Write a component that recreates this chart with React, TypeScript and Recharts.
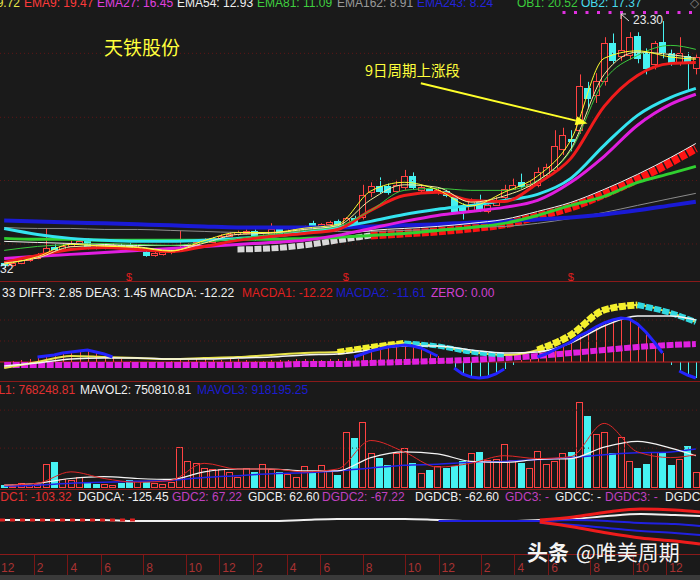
import React from "react";
import {
  Bar,
  ComposedChart,
  Line,
  ReferenceDot,
  ReferenceLine,
  XAxis,
  YAxis,
} from "recharts";

const BG = "#1a1a1a";
const RISE = "#ff4242";
const FALL = "#46f2f2";
const GRID = "#5e1616";
const LATIN = "'Liberation Sans', Arial, sans-serif";
const CJK = "'Noto Sans CJK SC', 'Noto Sans', sans-serif";
const W = 700;

// K线：每根一个值
const opens = [
  3.3, 3.1, 3.3, 3.5, 3.7, 4.0, 4.6, 4.4, 4.7, 4.9,
  5.1, 4.6, 4.5, 4.65, 4.75, 4.75, 4.5, 4.2, 3.9, 4.0,
  4.15, 4.3, 4.6, 4.8, 5.0, 5.0, 5.3, 5.5, 5.6, 5.7,
  5.9, 5.3, 5.6, 6.1, 5.75, 5.9, 6.0, 6.5, 6.2, 6.4,
  6.7, 6.3, 6.9, 7.0, 9.0, 9.5, 9.5, 9.1, 9.4, 10.3,
  9.2, 9.3, 9.0, 9.1, 8.6, 7.8, 7.6, 8.4, 7.5, 8.0,
  8.6, 9.3, 9.8, 9.5, 9.6, 10.4, 10.8, 12.5, 13.3, 14.0,
  17.4, 16.8, 18.0, 21.0, 20.0, 20.1, 21.6, 20.3, 19.3, 21.1,
  20.2, 19.5, 20.0, 19.0,
];
const closes = [
  3.1, 3.3, 3.5, 3.7, 3.9, 4.5, 4.4, 4.7, 4.9, 5.1,
  4.55, 4.5, 4.65, 4.75, 4.6, 4.55, 4.6, 3.9, 4.1, 4.15,
  4.35, 4.6, 4.8, 5.0, 5.15, 5.3, 5.5, 5.65, 5.8, 5.9,
  5.2, 5.5, 6.0, 5.7, 5.9, 6.1, 6.2, 6.2, 6.4, 6.6,
  6.2, 6.9, 6.6, 8.8, 9.5, 9.1, 9.0, 9.6, 10.3, 9.4,
  9.4, 9.1, 9.2, 8.8, 7.5, 7.6, 8.3, 7.6, 8.0, 8.4,
  9.3, 9.6, 9.5, 9.7, 10.6, 11.0, 12.7, 13.6, 13.1, 17.6,
  16.6, 18.0, 21.0, 19.7, 20.5, 21.5, 19.8, 19.0, 21.0, 20.3,
  19.4, 20.2, 19.4, 19.9,
];
const highs = [
  3.4, 3.4, 3.6, 3.8, 4.1, 6.1, 4.8, 4.9, 5.1, 5.3,
  5.3, 4.7, 4.8, 4.9, 4.85, 4.9, 4.7, 4.3, 4.2, 4.3,
  4.5, 5.9, 4.9, 5.1, 5.3, 5.4, 5.6, 5.8, 5.9, 6.0,
  6.0, 5.6, 6.5, 6.2, 6.0, 6.2, 6.3, 6.7, 6.5, 6.7,
  6.8, 7.0, 7.1, 9.6, 9.8, 10.2, 9.7, 10.0, 10.8, 10.6,
  9.6, 9.4, 9.4, 9.2, 8.7, 8.1, 8.5, 8.8, 8.2, 8.6,
  9.6, 10.1, 10.5, 9.9, 11.0, 11.3, 14.0, 14.2, 14.0, 18.5,
  17.9, 18.6, 21.5, 21.8, 23.3, 21.9, 21.9, 20.6, 21.2, 22.8,
  20.5, 21.5, 20.3, 20.1,
];
const lows = [
  2.9, 3.0, 3.2, 3.4, 3.6, 3.9, 4.2, 4.3, 4.6, 4.8,
  4.4, 4.4, 4.4, 4.5, 4.5, 4.4, 4.3, 3.8, 3.8, 3.9,
  4.0, 4.2, 4.5, 4.7, 4.9, 4.9, 5.2, 5.4, 5.5, 5.6,
  5.1, 5.2, 5.4, 5.6, 5.6, 5.8, 5.9, 6.1, 6.1, 6.3,
  6.1, 6.2, 6.5, 6.8, 8.6, 8.9, 8.8, 9.0, 9.2, 9.2,
  9.0, 8.9, 8.8, 8.6, 7.3, 6.8, 7.4, 7.4, 7.3, 7.9,
  8.4, 9.2, 9.3, 9.3, 9.4, 10.2, 10.6, 12.0, 12.3, 13.7,
  15.8, 16.2, 17.6, 19.4, 19.6, 19.7, 19.4, 18.5, 18.9, 19.8,
  19.2, 19.2, 17.2, 18.5,
];
// 成交量（单位约 2.2 万）
const volumes = [
  3, 2, 5, 3, 4, 25, 27, 10, 8, 12, 5, 4, 4, 3, 5, 8, 7, 6, 5, 4, 6,
  43, 28, 26, 21, 20, 20, 17, 12, 21, 17, 25, 20, 17, 15, 12, 23, 17, 24, 19, 14,
  59, 53, 69, 37, 32, 24, 37, 42, 26, 16, 19, 23, 21, 23, 28, 37, 38, 29, 31, 46,
  29, 26, 21, 39, 25, 28, 37, 38, 91, 76, 57, 59, 37, 54, 28, 21, 25, 38, 37, 24, 31, 44, 17,
];
const macdHist = [
  0, 0.1, 0.2, 0.3, 0.5, 0.6, 0.7, 0.9, 1.0, 1.1, 1.2, 1.0, 0.8, 0.5, 0.3, 0.1, 0, -0.1, -0.1, 0,
  0.1, 0.2, 0.2, 0.3, 0.3, 0.2, 0.2, 0.3, 0.3, 0.2, 0.1, 0.1, 0.2, 0.2, 0.2, 0.3, 0.3, 0.3, 0.2, 0.3, 0.3, 0.4,
  0.5, 0.8, 1.1, 1.3, 1.5, 1.6, 1.7, 1.6, 1.4, 1.0, 0.6, 0.2, -0.6, -1.2, -1.5, -1.6, -1.5, -1.2, -0.7, -0.3,
  0.2, 0.3, 0.5, 0.8, 1.2, 1.6, 2.0, 2.6, 3.0, 3.5, 3.9, 4.2, 4.4, 4.3, 3.8, 3.0, 2.0, 0.9, -0.3, -0.9, -1.3, -1.6,
];

// 指标线：每4根读一次，外加最后一根
const sampleIdx = [0, 4, 8, 12, 16, 20, 24, 28, 32, 36, 40, 44, 48, 52, 56, 60, 64, 68, 72, 76, 80, 83];
const ema9 = [3.34, 3.91, 4.39, 4.55, 4.39, 4.23, 4.63, 5.12, 5.44, 5.68, 6.0, 7.54, 8.74, 8.99, 8.34, 8.26, 9.71, 11.73, 15.92, 18.42, 19.39, 19.47];
const ema27 = [3.66, 3.83, 3.99, 4.15, 4.31, 4.47, 4.63, 4.79, 4.95, 5.12, 5.52, 6.08, 6.65, 7.13, 7.45, 7.78, 8.34, 9.8, 11.9, 14.4, 16.1, 16.9];
const ema54 = [5.04, 4.95, 4.87, 4.79, 4.71, 4.71, 4.71, 4.79, 4.87, 5.12, 5.52, 5.92, 6.08, 6.24, 6.49, 6.81, 7.45, 8.18, 9.23, 10.44, 11.81, 12.93];
const ema81 = [5.28, 5.2, 5.2, 5.12, 5.12, 5.12, 5.12, 5.2, 5.2, 5.28, 5.36, 5.52, 5.68, 5.92, 6.16, 6.49, 7.13, 7.94, 8.66, 9.79, 10.52, 11.09];
const ema162 = [6.16, 6.08, 6.08, 6.0, 6.0, 5.92, 5.84, 5.76, 5.76, 5.76, 5.84, 5.84, 5.92, 6.0, 6.16, 6.24, 6.49, 6.89, 7.37, 7.94, 8.5, 8.91];
const ema243 = [6.73, 6.65, 6.57, 6.49, 6.41, 6.33, 6.24, 6.16, 6.16, 6.16, 6.16, 6.24, 6.33, 6.41, 6.57, 6.65, 6.81, 6.97, 7.21, 7.54, 7.94, 8.24];
const ob1 = [4.31, 4.63, 4.79, 4.87, 4.79, 4.71, 4.95, 5.28, 5.6, 5.92, 6.24, 7.54, 9.15, 9.31, 9.15, 9.15, 9.95, 12.37, 18.0, 20.03, 20.84, 20.52];
const ob2 = [6.08, 5.6, 5.28, 5.12, 5.04, 5.04, 5.12, 5.28, 5.44, 5.76, 6.16, 6.65, 7.21, 7.62, 7.94, 8.34, 8.83, 10.12, 12.78, 15.2, 16.65, 17.37];
const fastA = [3.2, 3.8, 4.8, 4.65, 4.55, 4.25, 5.1, 5.75, 5.75, 6.1, 6.4, 9.1, 9.8, 9.2, 7.9, 9.0, 10.3, 13.2, 19.8, 20.4, 19.9, 19.72];
const fastB = [3.3, 3.7, 4.6, 4.7, 4.6, 4.3, 4.9, 5.6, 5.7, 6.0, 6.3, 8.4, 9.6, 9.4, 8.2, 8.7, 9.9, 12.5, 18.5, 20.3, 20.1, 19.8];
const squareBand = [null, null, null, null, null, null, null, 4.39, 4.47, 4.72, 5.12, 5.52, 5.68, 5.84, 6.09, 6.41, 7.05, 7.78, 8.83, 10.04, 11.41, 12.53];

const macdDiff = [-0.6, 0.0, 0.6, 0.5, 0.4, 0.3, 0.4, 0.5, 0.7, 0.9, 1.0, 1.5, 1.9, 1.6, 1.0, 0.7, 1.2, 2.7, 5.2, 5.7, 4.9, 4.0];
const macdDea = [-0.4, -0.1, 0.3, 0.4, 0.4, 0.3, 0.3, 0.4, 0.5, 0.7, 0.8, 1.2, 1.6, 1.6, 1.2, 0.9, 1.0, 1.9, 3.6, 4.6, 4.6, 4.2];
const macdBand = [-0.3, -0.3, -0.3, -0.3, -0.3, -0.3, -0.3, -0.3, -0.3, -0.2, -0.2, -0.1, 0.0, 0.1, 0.2, 0.4, 0.6, 0.9, 1.2, 1.5, 1.7, 1.8];
const diffRiseRanges = [[40, 48], [64, 76]];
const diffFallRanges = [[48, 60], [76, 83]];

const mavol1 = [3, 5, 17, 10, 6, 8, 26, 20, 20, 17, 20, 50, 38, 22, 26, 34, 31, 33, 68, 38, 32, 35];
const mavol2 = [3, 5, 10, 12, 10, 9, 17, 20, 20, 18, 18, 32, 38, 36, 28, 27, 30, 31, 43, 49, 42, 34];
const mavol3 = [2, 3, 5, 6, 7, 8, 11, 13, 15, 16, 18, 21, 24, 25, 27, 28, 30, 32, 35, 37, 38, 41];

const gdcWhite = [1, 1, 1, 1, 0, 0, 0, 0, 0, 1, 2, 2, 2, 1, 0, 0, 1, 2, 5, 7, 6, 5];
const gdcUp = [null, null, null, null, null, null, null, null, null, null, null, null, null, null, null, null, 1, 4, 9, 12, 11, 9];
const gdcDown = [null, null, null, null, null, null, null, null, null, null, null, null, null, null, null, null, -1, -6, -12, -17, -20, -23];
const gdcBlueA = [null, null, null, null, null, null, null, null, null, null, null, null, null, 0, 0, 0, 0, 1, 0, -2, -3, -5];
const gdcBlueB = [null, null, null, null, null, null, null, null, null, null, null, null, null, null, null, null, -2, -4, -7, -10, -12, -14];
const gdcLeftRed = [1, 1, 1, 1, 1, null, null, null, null, null, null, null, null, null, null, null, null, null, null, null, null, null];

const monthTickIdx = [4, 8, 12, 17, 22, 26, 30, 34, 38, 43, 48, 52, 57, 61, 65, 70, 75, 79];
const monthLabels = ["2", "4", "6", "8", "10", "12", "2", "4", "6", "8", "10", "12", "2", "4", "6", "8", "10", "12"];
const signalIdx = [15, 41, 68];
const priceGrid = [20.2, 15.04, 9.95, 4.83];

const pick = (arr: (number | null)[], i: number) => {
  const k = sampleIdx.indexOf(i);
  return k < 0 ? null : arr[k];
};
const inRange = (i: number, r: number[]) => i >= r[0] && i <= r[1];

const rows = opens.map((o, i) => ({
  i,
  o,
  c: closes[i],
  hi: highs[i],
  lo: lows[i],
  vol: volumes[i],
  hist: macdHist[i],
  tip: Math.abs(macdHist[i]) >= 0.5 ? macdHist[i] : null,
  ema9: pick(ema9, i),
  ema27: pick(ema27, i),
  ema54: pick(ema54, i),
  ema81: pick(ema81, i),
  ema162: pick(ema162, i),
  ema243: pick(ema243, i),
  ob1: pick(ob1, i),
  ob2: pick(ob2, i),
  fastA: pick(fastA, i),
  fastB: pick(fastB, i),
  sqWhite: i <= 44 ? pick(squareBand, i) : null,
  sqRed: i >= 44 ? pick(squareBand, i) : null,
  diff: pick(macdDiff, i),
  diffRise1: inRange(i, diffRiseRanges[0]) ? pick(macdDiff, i) : null,
  diffRise2: inRange(i, diffRiseRanges[1]) ? pick(macdDiff, i) : null,
  diffFall1: inRange(i, diffFallRanges[0]) ? pick(macdDiff, i) : null,
  diffFall2: inRange(i, diffFallRanges[1]) ? pick(macdDiff, i) : null,
  dea: pick(macdDea, i),
  mband: pick(macdBand, i),
  mav1: pick(mavol1, i),
  mav2: pick(mavol2, i),
  mav3: pick(mavol3, i),
  gWhite: pick(gdcWhite, i),
  gUp: pick(gdcUp, i),
  gDown: pick(gdcDown, i),
  gBlueA: pick(gdcBlueA, i),
  gBlueB: pick(gdcBlueB, i),
  gLeft: pick(gdcLeftRed, i),
}));

const Candle = (props: any) => {
  const { x, y, width, height, payload } = props;
  if (!payload || !isFinite(y) || !isFinite(height)) return null;
  const top = Math.min(y, y + height);
  const span = Math.abs(height);
  const { o, c, hi, lo } = payload;
  const k = hi > lo ? span / (hi - lo) : 0;
  const py = (v: number) => top + (hi - v) * k;
  const up = c >= o;
  const col = up ? RISE : FALL;
  const cx = Math.round(x + width / 2) + 0.5;
  const bTop = Math.round(py(Math.max(o, c))) + 0.5;
  const bBot = Math.round(py(Math.min(o, c))) + 0.5;
  return (
    <g>
      <line x1={cx} x2={cx} y1={top} y2={bTop} stroke={col} />
      <line x1={cx} x2={cx} y1={bBot} y2={top + span} stroke={col} />
      <rect
        x={Math.round(x) + 0.5}
        y={bTop}
        width={Math.round(width) - 1}
        height={Math.max(1, bBot - bTop)}
        fill={up ? BG : col}
        stroke={col}
      />
    </g>
  );
};

const VolBar = (props: any) => {
  const { x, y, width, height, payload } = props;
  if (!payload || !isFinite(y)) return null;
  const up = payload.c >= payload.o;
  const top = Math.round(Math.min(y, y + height)) + 0.5;
  const bottom = Math.round(Math.max(y, y + height)) - 0.5;
  return (
    <rect
      x={Math.round(x) + 0.5}
      y={top}
      width={Math.round(width) - 1}
      height={Math.max(0, bottom - top)}
      fill={up ? BG : FALL}
      stroke={up ? RISE : FALL}
    />
  );
};

const HistLine = (props: any) => {
  const { x, y, width, height, payload } = props;
  if (!payload || !isFinite(y)) return null;
  const cx = Math.round(x + width / 2) + 0.5;
  return <line x1={cx} x2={cx} y1={y} y2={y + height} stroke={payload.hist >= 0 ? RISE : FALL} />;
};

const Arrow = (p: any) => {
  const x1 = p.x1, y1 = p.y1, x2 = p.x2, y2 = p.y2;
  if (![x1, y1, x2, y2].every((v) => isFinite(v))) return null;
  const a = Math.atan2(y2 - y1, x2 - x1);
  const L = 12, H = 4.5;
  const bx = x2 - L * Math.cos(a);
  const by = y2 - L * Math.sin(a);
  const pts = `${x2},${y2} ${bx + H * Math.sin(a)},${by - H * Math.cos(a)} ${bx - H * Math.sin(a)},${by + H * Math.cos(a)}`;
  return (
    <g>
      <line x1={x1} y1={y1} x2={bx} y2={by} stroke="#ffff2a" strokeWidth={2} />
      <polygon points={pts} fill="#ffff2a" />
    </g>
  );
};

const Signal = (p: any) => (
  <text x={p.cx} y={p.cy + 4} textAnchor="middle" fill="#e01e1e" fontSize={11} fontFamily={LATIN}>
    $
  </text>
);

const AxisTick = (p: any) => {
  const k = monthTickIdx.indexOf(p.payload?.value);
  const x = Math.round(p.x) + 0.5;
  return (
    <g>
      <line x1={x} x2={x} y1={p.y + 2} y2={p.y + 22} stroke="#7a1616" />
      <text x={p.x + 3} y={p.y + 19} fill="#a83232" fontSize={12} fontFamily={LATIN}>
        {k >= 0 ? monthLabels[k] : ""}
      </text>
    </g>
  );
};

const margin = { top: 0, right: 0, bottom: 0, left: 0 };

const line = (key: string, color: string, width: number, extra: any = {}) => (
  <Line
    key={key}
    dataKey={key}
    stroke={color}
    strokeWidth={width}
    dot={false}
    activeDot={false}
    connectNulls
    type="monotone"
    isAnimationActive={false}
    {...extra}
  />
);

const dotted = (y: number) => (
  <ReferenceLine key={"g" + y} y={y} stroke={GRID} strokeDasharray="1 3" />
);

type Txt = [string, number, string];
const topRow: Txt[] = [
  ["19.72", -10, "#e8e84a"],
  ["EMA9: 19.47", 24, "#ff3a3a"],
  ["EMA27: 16.45", 97, "#e040e0"],
  ["EMA54: 12.93", 177, "#f0f0f0"],
  ["EMA81: 11.09", 257, "#40d040"],
  ["EMA162: 8.91", 337, "#9a9a9a"],
  ["EMA243: 8.24", 417, "#2424dc"],
  ["OB1: 20.52", 517, "#3ccc3c"],
  ["OB2: 17.37", 581, "#48dcec"],
  ["◇", 690, "#808080"],
];
const macdRow: Txt[] = [
  ["33 DIFF3: 2.85 DEA3: 1.45 MACDA: -12.22", 2, "#f0f0f0"],
  ["MACDA1: -12.22", 242, "#e02020"],
  ["MACDA2: -11.61", 336, "#1c1cd0"],
  ["ZERO: 0.00", 431, "#d040d0"],
];
const volRow: Txt[] = [
  ["MAVOL1: 768248.81", -36, "#e03030"],
  ["MAVOL2: 750810.81", 80, "#f0f0f0"],
  ["MAVOL3: 918195.25", 197, "#1c1cd0"],
];
const gdcRow: Txt[] = [
  ["GDC1: -103.32", -9, "#e03030"],
  ["DGDCA: -125.45", 78, "#f0f0f0"],
  ["GDC2: 67.22", 172, "#c040c0"],
  ["GDCB: 62.60", 248, "#f0f0f0"],
  ["DGDC2: -67.22", 322, "#c040c0"],
  ["DGDCB: -62.60", 415, "#f0f0f0"],
  ["GDC3: -", 505, "#c040c0"],
  ["GDCC: -", 555, "#f0f0f0"],
  ["DGDC3: -", 605, "#c040c0"],
  ["DGDCC: -", 665, "#f0f0f0"],
];

const renderRow = (items: Txt[], base: number) =>
  items.map(([t, x, col]) => (
    <text key={t + x} x={x} y={base} fill={col} fontSize={12} fontFamily={LATIN}>
      {t}
    </text>
  ));

const pos = (top: number): React.CSSProperties => ({ position: "absolute", left: 0, top });

export default function App() {
  return (
    <div
      style={{
        position: "absolute",
        left: 0,
        top: 0,
        width: W,
        height: 580,
        background: BG,
        overflow: "hidden",
      }}
    >
      <div style={pos(0)}>
        <ComposedChart width={W} height={286} data={rows} margin={margin}>
          <XAxis dataKey="i" hide />
          <YAxis hide domain={[1.44, 24.5]} allowDataOverflow />
          {priceGrid.map(dotted)}
          {line("sqWhite", "#d8d8d8", 6, { strokeDasharray: "7 1.5" })}
          {line("sqRed", "#ff1414", 8, { strokeDasharray: "7 1.5" })}
          {line("ema162", "#8c8c8c", 1)}
          {line("ema243", "#1a1ad6", 4)}
          {line("ema81", "#30d030", 3)}
          {line("ema54", "#f4f4f4", 1)}
          {line("ob2", "#34e4f0", 3)}
          {line("ema27", "#e01ee0", 3)}
          {line("ema9", "#f01c1c", 3)}
          <Bar dataKey={(d: any) => [d.lo, d.hi]} shape={Candle} barSize={7} isAnimationActive={false} />
          {line("ob1", "#3cc83c", 1)}
          {line("fastB", "#f4f0a0", 1)}
          {line("fastA", "#ffff30", 1)}
          <ReferenceLine
            segment={[{ x: 67, y: 23.5 }, { x: 83, y: 23.5 }]}
            stroke="#e030e0"
            strokeWidth={3}
            strokeDasharray="3 8.5"
          />
          <ReferenceLine segment={[{ x: 50, y: 17.78 }, { x: 70, y: 14.55 }]} shape={Arrow} />
          {signalIdx.map((i) => (
            <ReferenceDot key={i} x={i} y={2.2} shape={Signal} />
          ))}
        </ComposedChart>
      </div>

      <div style={pos(300)}>
        <ComposedChart width={W} height={81} data={rows} margin={margin}>
          <XAxis dataKey="i" hide />
          <YAxis hide domain={[-1.9, 6.2]} allowDataOverflow />
          {[4.2, 2.1].map(dotted)}
          <ReferenceLine y={0} stroke="#c81e1e" />
          <Bar dataKey="hist" barSize={1} shape={HistLine} isAnimationActive={false} />
          {line("mband", "#e020e0", 6, { strokeDasharray: "7 1.5" })}
          {line("diff", "#e8e44a", 2)}
          {line("diffRise1", "#f4f02c", 6, { strokeDasharray: "7 1.5" })}
          {line("diffRise2", "#f4f02c", 7, { strokeDasharray: "7 1.5" })}
          {line("diffFall1", "#30d8e0", 5, { strokeDasharray: "7 1.5" })}
          {line("diffFall2", "#30d8e0", 6, { strokeDasharray: "7 1.5" })}
          {line("dea", "#f4f4f4", 1.5)}
          {line("tip", "#2424ff", 3, { connectNulls: false, type: "linear" })}
        </ComposedChart>
      </div>

      <div style={pos(393)}>
        <ComposedChart width={W} height={95} data={rows} margin={margin}>
          <XAxis dataKey="i" hide />
          <YAxis hide domain={[0, 100]} allowDataOverflow />
          {[82, 42].map(dotted)}
          <Bar dataKey="vol" barSize={7} shape={VolBar} isAnimationActive={false} />
          {line("mav3", "#2222e8", 1.5)}
          {line("mav2", "#f4f4f4", 1.2)}
          {line("mav1", "#e02828", 1)}
        </ComposedChart>
      </div>

      <div style={pos(503)}>
        <ComposedChart width={W} height={77} data={rows} margin={margin}>
          <XAxis
            dataKey="i"
            ticks={monthTickIdx}
            interval={0}
            tick={(p: any) => <AxisTick {...p} />}
            tickLine={false}
            axisLine={false}
            tickSize={0}
            tickMargin={0}
            height={27}
          />
          <YAxis hide domain={[-32, 18]} allowDataOverflow />
          {line("gWhite", "#f0f0f0", 2)}
          {line("gLeft", "#e02020", 3, { strokeDasharray: "5 5" })}
          {line("gBlueA", "#2020e0", 2)}
          {line("gBlueB", "#2020e0", 2)}
          {line("gUp", "#ee1c1c", 3)}
          {line("gDown", "#ee1c1c", 3)}
        </ComposedChart>
      </div>

      <svg
        width={W}
        height={580}
        style={{ position: "absolute", left: 0, top: 0, pointerEvents: "none" }}
      >
        {[281.5, 381.5, 489.5, 554.5].map((y) => (
          <line key={y} x1={0} x2={W} y1={y} y2={y} stroke="#8a1a1a" />
        ))}
        <rect x={0} y={575} width={W} height={5} fill="#3a3a3a" />
        {renderRow(topRow, 7)}
        {renderRow(macdRow, 297)}
        {renderRow(volRow, 394)}
        {renderRow(gdcRow, 501)}
        <text x={1} y={572} fill="#a83232" fontSize={12} fontFamily={LATIN}>12</text>
        <text x={0} y={273} fill="#e8e8e8" fontSize={12} fontFamily={LATIN}>32</text>
        <path d="M621 14 L629 21 M621 14 L621 19 M621 14 L626 14" stroke="#dddddd" fill="none" />
        <text x={633} y={24} fill="#e8e8e8" fontSize={12} fontFamily={LATIN}>23.30</text>
        <text x={104} y={55} fill="#ffff3c" fontSize={19} fontFamily={CJK}>天铁股份</text>
        <text x={365} y={76} fill="#ffff3c" fontSize={14.5} fontFamily={CJK}>9日周期上涨段</text>
        <text x={527} y={560} fill="#f4f4f4" fontSize={21} fontWeight={700} fontFamily={CJK}>头条</text>
        <text x={576} y={560} fill="#f4f4f4" fontSize={21} fontFamily={CJK}>@唯美周期</text>
      </svg>
    </div>
  );
}
